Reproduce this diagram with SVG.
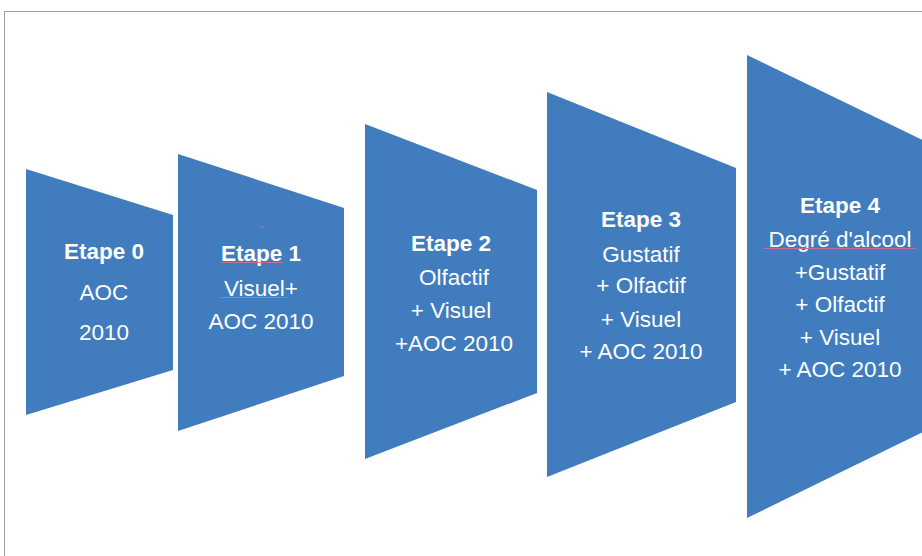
<svg xmlns="http://www.w3.org/2000/svg" width="922" height="556" viewBox="0 0 922 556">
<style>
.shape{fill:#407CBE;}
.t{font-family:"Liberation Sans",Arial,sans-serif;font-size:22.5px;fill:#ffffff;text-anchor:middle;}
.b{font-weight:bold;}
.sq{stroke:#c07090;stroke-width:1;fill:none;}
</style>
<rect x="4.5" y="11.5" width="940" height="560" fill="#ffffff" stroke="#a0a0a0" stroke-width="1"/>
<g id="etape0">
<polygon class="shape" points="26,169 173,215 173,370 26,415"/>
<text class="t b" x="104" y="259">Etape 0</text>
<text class="t" x="104" y="300">AOC</text>
<text class="t" x="104" y="340">2010</text>
</g>
<g id="etape1">
<polygon class="shape" points="178,154 344,208 344,376 178,431"/>
<text class="t b" x="261" y="261">Etape 1</text>
<text class="t" x="261" y="296">Visuel+</text>
<text class="t" x="261" y="329">AOC 2010</text>
<line class="sq" x1="220" y1="262.5" x2="283" y2="262.5"/>
<line class="sq" x1="221" y1="297.5" x2="287" y2="297.5"/>
<line class="sq" x1="259" y1="227" x2="264" y2="227"/>
</g>
<g id="etape2">
<polygon class="shape" points="365,124 537,190 537,393 365,459"/>
<text class="t b" x="451" y="251">Etape 2</text>
<text class="t" x="454" y="285">Olfactif</text>
<text class="t" x="451" y="318">+ Visuel</text>
<text class="t" x="454" y="351">+AOC 2010</text>
</g>
<g id="etape3">
<polygon class="shape" points="547,92 736,168 736,402 547,477"/>
<text class="t b" x="641" y="227">Etape 3</text>
<text class="t" x="641" y="262">Gustatif</text>
<text class="t" x="641" y="293">+ Olfactif</text>
<text class="t" x="641" y="327">+ Visuel</text>
<text class="t" x="641" y="359">+ AOC 2010</text>
</g>
<g id="etape4">
<polygon class="shape" points="747,55 933,145 933,427 747,518"/>
<text class="t b" x="840" y="213">Etape 4</text>
<text class="t" x="840" y="247">Degré d'alcool</text>
<text class="t" x="840" y="280">+Gustatif</text>
<text class="t" x="840" y="312">+ Olfactif</text>
<text class="t" x="840" y="345">+ Visuel</text>
<text class="t" x="840" y="377">+ AOC 2010</text>
<line class="sq" x1="763" y1="248.5" x2="916" y2="248.5"/>
</g>
<g id="connectors"></g>
</svg>
